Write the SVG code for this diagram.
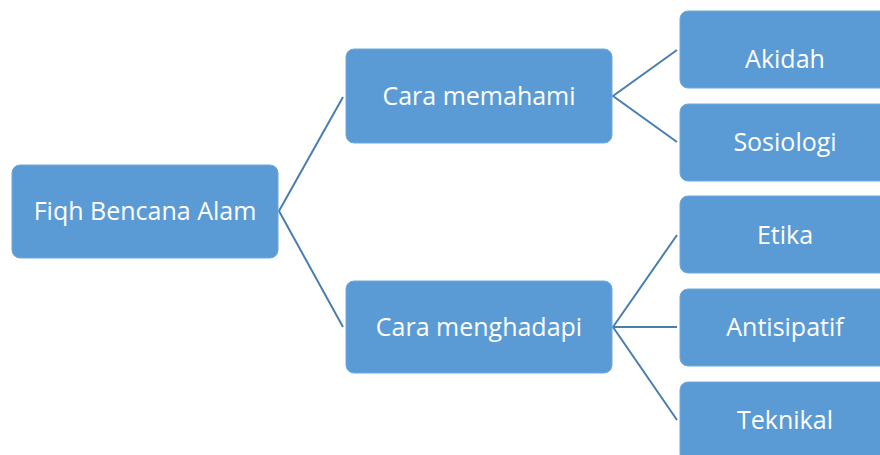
<svg xmlns="http://www.w3.org/2000/svg" width="880" height="455" viewBox="0 0 880 455">
<style>
.box{fill:#5B9BD5;stroke:#6FA8DC;stroke-width:1}
.lbl{font-family:"Open Sans","Noto Sans","Liberation Sans",sans-serif;font-size:25px;fill:#FFFFFF;text-anchor:middle}
.con{fill:none;stroke:#4A7EB0;stroke-width:2}
</style>
<rect width="880" height="455" fill="#FFFFFF"/>
<g id="connectors">
<polyline class="con" points="343,97 279,211 343,327"/>
<polyline class="con" points="677,50 613,96 677,142"/>
<polyline class="con" points="677,235 613,327 677,420"/>
<line class="con" x1="613" y1="327" x2="677" y2="327"/>
</g>
<g id="root"><rect class="box" x="12" y="165" width="266" height="93" rx="8"/><text class="lbl" x="145" y="220">Fiqh Bencana Alam</text></g>
<g id="memahami"><rect class="box" x="346" y="49" width="266" height="94" rx="8"/><text class="lbl" x="479" y="105">Cara memahami</text></g>
<g id="menghadapi"><rect class="box" x="346" y="281" width="266" height="92" rx="8"/><text class="lbl" x="479" y="336">Cara menghadapi</text></g>
<g id="akidah"><rect class="box" x="680" y="11" width="220" height="77" rx="8"/><text class="lbl" x="785" y="68">Akidah</text></g>
<g id="sosiologi"><rect class="box" x="680" y="104" width="220" height="77" rx="8"/><text class="lbl" x="785" y="151">Sosiologi</text></g>
<g id="etika"><rect class="box" x="680" y="196" width="220" height="77" rx="8"/><text class="lbl" x="785" y="244">Etika</text></g>
<g id="antisipatif"><rect class="box" x="680" y="289" width="220" height="77" rx="8"/><text class="lbl" x="785" y="336">Antisipatif</text></g>
<g id="teknikal"><rect class="box" x="680" y="382" width="220" height="80" rx="8"/><text class="lbl" x="785" y="429">Teknikal</text></g>
</svg>
